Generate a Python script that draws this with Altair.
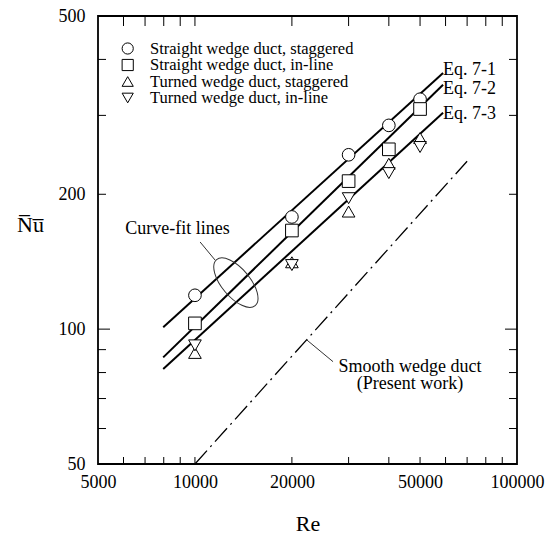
import altair as alt
import pandas as pd

# ---------------- data ----------------
re_data = [10000, 20000, 30000, 40000, 50000]
nu_straight_staggered = [119, 178, 245, 285, 326]
nu_straight_inline = [103, 166, 214, 252, 310]
nu_turned_staggered = [88.5, 141, 183, 234, 267]
nu_turned_inline = [92, 139, 196, 223, 255]
series_names = [
    "Straight wedge duct, staggered",
    "Straight wedge duct, in-line",
    "Turned wedge duct, staggered",
    "Turned wedge duct, in-line",
]
series_shapes = ["circle", "square", "triangle-up", "triangle-down"]

fit_re = [7970, 58950]
fit_eq1 = [101, 373]
fit_eq2 = [86.5, 351]
fit_eq3 = [81.5, 304]
eq_labels = ["Eq. 7-1", "Eq. 7-2", "Eq. 7-3"]
eq_label_nu = [378, 343, 302]

smooth_re = [10000, 70000]
smooth_nu = [50, 237]

ellipse_re = [13400]
ellipse_nu = [127]
curve_text_re = [8826]
curve_text_nu = [167]
curve_leader_re = [10375, 11550]
curve_leader_nu = [156.5, 142.6]
smooth_text = ["Smooth wedge duct", "(Present work)"]
smooth_text_re = [46500, 46500]
smooth_text_nu = [82.3, 75.6]
smooth_leader_re = [22250, 26840]
smooth_leader_nu = [94.6, 84.6]

x_label_values = [5000, 10000, 20000, 50000, 100000]
y_label_values = [50, 100, 200, 500]
x_tick_values = [6000, 7000, 8000, 9000, 10000, 20000, 30000, 40000, 50000,
                 60000, 70000, 80000, 90000]
y_tick_values = [60, 70, 80, 90, 200, 300, 400]
y_major_tick = [100]

# ---------------- chart ----------------
W, H = 419, 448
FONT = "Liberation Serif"
FS = 18
LFS = 16.5
xs = alt.Scale(type="log", domain=[5000, 100000], nice=False)
ys = alt.Scale(type="log", domain=[50, 500], nice=False)

AX_X = alt.Axis(
    values=x_label_values, format="d", title="Re", labelFlush=False,
    labelOverlap=False, tickSize=0, domain=False, grid=False, labelPadding=9,
    labelFontSize=FS, labelFont=FONT, labelColor="black",
    titleFont=FONT, titleFontSize=22, titleFontWeight="normal", titleColor="black",
    titleY=66, titleBaseline="alphabetic")
AX_Y = alt.Axis(
    values=y_label_values, format="d", title="N\u0305u\u0305", titleAngle=0,
    titleX=-68, titleY=208, titleAlign="center", titleBaseline="middle",
    labelFlush=False, labelOverlap=False, tickSize=0, domain=False, grid=False,
    labelPadding=13, labelFontSize=FS, labelFont=FONT, labelColor="black",
    titleFont=FONT, titleFontSize=22, titleFontWeight="normal", titleColor="black")

pts = pd.DataFrame({
    "Re": re_data * 4,
    "Nu": nu_straight_staggered + nu_straight_inline + nu_turned_staggered + nu_turned_inline,
    "Series": [n for n in series_names for _ in re_data],
})

fits = pd.DataFrame({
    "Re": fit_re * 3,
    "Nu": fit_eq1 + fit_eq2 + fit_eq3,
    "Eq": [e for e in eq_labels for _ in fit_re],
})
eqlab = pd.DataFrame({"Re": [fit_re[1]] * 3, "Nu": eq_label_nu, "t": eq_labels})
smooth = pd.DataFrame({"Re": smooth_re, "Nu": smooth_nu})
ell = pd.DataFrame({"Re": ellipse_re, "Nu": ellipse_nu})
ctext = pd.DataFrame({"Re": curve_text_re, "Nu": curve_text_nu, "t": ["Curve-fit lines"]})
leaders = pd.DataFrame({
    "Re": curve_leader_re + smooth_leader_re,
    "Nu": curve_leader_nu + smooth_leader_nu,
    "g": ["a", "a", "b", "b"],
})
stext = pd.DataFrame({"Re": smooth_text_re, "Nu": smooth_text_nu, "t": smooth_text})
xt = pd.DataFrame({"v": x_tick_values})
yt = pd.DataFrame({"v": y_tick_values})
ytm = pd.DataFrame({"v": y_major_tick})
leg = pd.DataFrame({"Series": series_names})


def X(f="Re"):
    return alt.X(f"{f}:Q", scale=xs, axis=AX_X)


def Y(f="Nu"):
    return alt.Y(f"{f}:Q", scale=ys, axis=AX_Y)


shape_enc = alt.Shape("Series:N", scale=alt.Scale(domain=series_names, range=series_shapes),
                      legend=None)

fit_layer = alt.Chart(fits).mark_line(color="black", strokeWidth=2).encode(
    x=X(), y=Y(), detail="Eq:N")

smooth_layer = alt.Chart(smooth).mark_line(
    color="black", strokeWidth=1.3, strokeDash=[18, 5, 2, 5]).encode(x=X(), y=Y())

ellipse_path = "M-1,0A1,0.47,0,1,1,1,0A1,0.47,0,1,1,-1,0Z"
ell_layer = alt.Chart(ell).mark_point(
    shape=ellipse_path, size=3600, angle=50, filled=False,
    stroke="#333", strokeWidth=1, opacity=1).encode(x=X(), y=Y())

leader_layer = alt.Chart(leaders).mark_line(color="#333", strokeWidth=1).encode(
    x=X(), y=Y(), detail="g:N")

eq_text = alt.Chart(eqlab).mark_text(
    align="left", baseline="middle", font=FONT, fontSize=FS, color="black").encode(
    x=X(), y=Y(), text="t:N")

curve_text = alt.Chart(ctext).mark_text(
    align="center", baseline="middle", font=FONT, fontSize=FS, color="black").encode(
    x=X(), y=Y(), text="t:N")

smooth_txt = alt.Chart(stext).mark_text(
    align="center", baseline="middle", font=FONT, fontSize=FS, color="black").encode(
    x=X(), y=Y(), text="t:N")

xtick_bot = alt.Chart(xt).mark_rule(color="black", strokeWidth=1).encode(
    x=X("v"), y=alt.value(H), y2=alt.value(H - 7))
xtick_top = alt.Chart(xt).mark_rule(color="black", strokeWidth=1).encode(
    x=X("v"), y=alt.value(0), y2=alt.value(10))
ytick_left = alt.Chart(yt).mark_rule(color="black", strokeWidth=1).encode(
    y=Y("v"), x=alt.value(0), x2=alt.value(8))
ytick_right = alt.Chart(yt).mark_rule(color="black", strokeWidth=1).encode(
    y=Y("v"), x=alt.value(W), x2=alt.value(W - 8))
ytick_left_m = alt.Chart(ytm).mark_rule(color="black", strokeWidth=1).encode(
    y=Y("v"), x=alt.value(0), x2=alt.value(12))
ytick_right_m = alt.Chart(ytm).mark_rule(color="black", strokeWidth=1).encode(
    y=Y("v"), x=alt.value(W), x2=alt.value(W - 12))

points = alt.Chart(pts).mark_point(
    filled=False, fill="white", stroke="black", strokeWidth=1, size=160, opacity=1).encode(
    x=X(), y=Y(), shape=shape_enc)

main = alt.layer(
    xtick_bot, xtick_top, ytick_left, ytick_right, ytick_left_m, ytick_right_m,
    smooth_layer, fit_layer, ell_layer, leader_layer,
    points, eq_text, curve_text, smooth_txt,
)

# hand-made legend: rows placed by a point scale
leg_y = alt.Y("Series:N", axis=None,
              scale=alt.Scale(type="point", domain=series_names, range=[32.5, 82], padding=0))
leg_pts = alt.Chart(leg).mark_point(
    filled=False, fill="white", stroke="black", strokeWidth=1, size=125, opacity=1).encode(
    x=alt.value(29.7), y=leg_y, shape=shape_enc)
leg_txt = alt.Chart(leg).mark_text(
    align="left", baseline="middle", font=FONT, fontSize=LFS, color="black").encode(
    x=alt.value(52), y=leg_y, text="Series:N")
legend_layer = alt.layer(leg_pts, leg_txt)

chart = alt.layer(main, legend_layer).resolve_scale(y="independent").properties(
    width=W, height=H,
    autosize=alt.AutoSizeParams(type="none"),
    padding={"left": 98, "top": 16, "right": 32, "bottom": 72},
    background="white",
).configure_view(stroke="black", strokeWidth=1.8)

chart.save("out.html", embed_options={"renderer": "svg", "actions": False})
